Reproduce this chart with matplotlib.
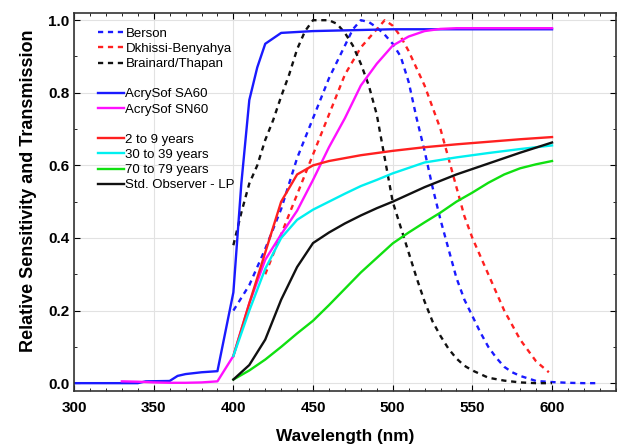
import matplotlib
matplotlib.use("Agg")
import matplotlib.pyplot as plt
from matplotlib.lines import Line2D
from matplotlib.ticker import MultipleLocator

plt.rcParams['font.family'] = ['Liberation Sans', 'DejaVu Sans']

# ---- data ----
berson_x = [400, 410, 420, 430, 440, 450, 460, 470, 475, 480, 485, 490, 495, 500, 505, 510, 515, 520,
            525, 530, 535, 540, 545, 550, 555, 560, 565, 570, 575, 580, 590, 600, 610, 620, 630]
berson_y = [0.20, 0.27, 0.37, 0.48, 0.62, 0.73, 0.84, 0.93, 0.975, 1.00, 0.995, 0.98, 0.96, 0.935, 0.90,
            0.83, 0.73, 0.64, 0.54, 0.45, 0.37, 0.29, 0.23, 0.185, 0.14, 0.10, 0.07, 0.045, 0.03, 0.02,
            0.006, 0.003, 0.001, 0.0, 0.0]

dkhissi_x = [420, 430, 440, 450, 460, 470, 480, 490, 495, 500, 505, 510, 520, 530, 540, 545, 550, 560,
             570, 580, 590, 598]
dkhissi_y = [0.30, 0.41, 0.52, 0.63, 0.74, 0.85, 0.925, 0.975, 1.00, 0.985, 0.955, 0.915, 0.82, 0.70,
             0.54, 0.46, 0.40, 0.30, 0.20, 0.12, 0.06, 0.03]

brainard_x = [400, 405, 410, 415, 420, 425, 430, 435, 440, 445, 450, 455, 460, 465, 470, 475, 480, 485,
              490, 495, 500, 505, 510, 515, 520, 525, 530, 535, 540, 545, 550, 555, 560, 570, 580, 590, 600]
brainard_y = [0.38, 0.47, 0.55, 0.60, 0.67, 0.725, 0.79, 0.85, 0.92, 0.97, 1.00, 1.00, 1.00, 0.99,
              0.965, 0.93, 0.88, 0.82, 0.74, 0.62, 0.50, 0.43, 0.36, 0.29, 0.225, 0.17, 0.13, 0.095,
              0.068, 0.048, 0.035, 0.025, 0.015, 0.007, 0.002, 0.0, 0.0]

sa60_x = [300, 340, 345, 360, 365, 370, 380, 390, 400, 405, 410, 415, 420, 430, 450, 500, 600]
sa60_y = [0.0, 0.0, 0.005, 0.006, 0.02, 0.025, 0.03, 0.033, 0.25, 0.55, 0.78, 0.87, 0.935, 0.965,
          0.97, 0.975, 0.975]

sn60_x = [330, 340, 350, 360, 370, 380, 390, 400, 410, 420, 430, 440, 450, 460, 470, 480, 490, 500,
          510, 520, 530, 540, 600]
sn60_y = [0.005, 0.004, 0.002, 0.001, 0.001, 0.002, 0.005, 0.075, 0.22, 0.34, 0.41, 0.475, 0.56,
          0.65, 0.73, 0.82, 0.88, 0.93, 0.955, 0.97, 0.976, 0.978, 0.978]

age2_x = [400, 410, 420, 430, 440, 450, 460, 480, 500, 520, 540, 560, 580, 600]
age2_y = [0.075, 0.22, 0.36, 0.50, 0.575, 0.60, 0.612, 0.628, 0.64, 0.65, 0.658, 0.665, 0.672, 0.678]

age30_x = [400, 410, 420, 430, 440, 450, 460, 470, 480, 490, 500, 520, 540, 560, 580, 600]
age30_y = [0.075, 0.20, 0.315, 0.40, 0.45, 0.478, 0.50, 0.522, 0.543, 0.56, 0.578, 0.608, 0.622,
           0.634, 0.645, 0.655]

age70_x = [400, 410, 420, 430, 440, 450, 460, 470, 480, 490, 500, 510, 520, 530, 540, 550, 560, 570,
           580, 590, 600]
age70_y = [0.01, 0.035, 0.065, 0.10, 0.137, 0.172, 0.215, 0.26, 0.305, 0.345, 0.385, 0.415, 0.443,
           0.47, 0.50, 0.525, 0.552, 0.575, 0.592, 0.603, 0.612]

std_x = [400, 410, 420, 430, 440, 450, 460, 470, 480, 490, 500, 520, 540, 560, 580, 600]
std_y = [0.01, 0.05, 0.12, 0.23, 0.32, 0.386, 0.415, 0.44, 0.462, 0.482, 0.50, 0.54, 0.575, 0.605,
         0.635, 0.663]

x_ticks = [300, 350, 400, 450, 500, 550, 600]
y_ticks = [0.0, 0.2, 0.4, 0.6, 0.8, 1.0]

# ---- figure ----
fig = plt.figure(figsize=(6.17, 4.46), dpi=100)
ax = fig.add_axes([0.120, 0.123, 0.878, 0.848])

dash = (0, (2.2, 2.0))
lw = 1.7
h_b, = ax.plot(berson_x, berson_y, color='#1a1aff', lw=lw, linestyle=dash, label='Berson')
h_d, = ax.plot(dkhissi_x, dkhissi_y, color='#ff2020', lw=lw, linestyle=dash, label='Dkhissi-Benyahya')
h_t, = ax.plot(brainard_x, brainard_y, color='#111111', lw=lw, linestyle=dash, label='Brainard/Thapan')
h_sa, = ax.plot(sa60_x, sa60_y, color='#1a1aff', lw=lw, label='AcrySof SA60')
h_sn, = ax.plot(sn60_x, sn60_y, color='#ff10ff', lw=lw, label='AcrySof SN60')
h_2, = ax.plot(age2_x, age2_y, color='#ff2020', lw=lw, label='2 to 9 years')
h_30, = ax.plot(age30_x, age30_y, color='#00f0f0', lw=lw, label='30 to 39 years')
h_70, = ax.plot(age70_x, age70_y, color='#10e010', lw=lw, label='70 to 79 years')
h_s, = ax.plot(std_x, std_y, color='#111111', lw=lw, label='Std. Observer - LP')

ax.set_xlim(300, 640)
ax.set_ylim(-0.022, 1.02)
ax.set_xticks(x_ticks)
ax.set_yticks(y_ticks)
ax.set_yticklabels([f"{v:.1f}" for v in y_ticks])
ax.xaxis.set_minor_locator(MultipleLocator(10))
ax.yaxis.set_minor_locator(MultipleLocator(0.1))
ax.tick_params(which='both', direction='in', top=True, right=True, labelsize=11)
ax.tick_params(which='major', length=4, width=0.8)
ax.tick_params(which='minor', length=2, width=0.6)
for lab in ax.get_xticklabels() + ax.get_yticklabels():
    lab.set_fontweight('bold')
ax.tick_params(axis='x', pad=7)
ax.grid(True, which='major', color='#e2e2e2', lw=0.8)
ax.set_axisbelow(True)
for sp in ax.spines.values():
    sp.set_linewidth(1.2)
    sp.set_color('#333333')

ax.set_xlabel('Wavelength (nm)', fontsize=12.4, fontweight='bold', labelpad=10)
ax.set_ylabel('Relative Sensitivity and Transmission', fontsize=13, fontweight='bold')
ax.yaxis.set_label_coords(-0.068, 0.53)

blank = Line2D([], [], color='none')
handles = [h_b, h_d, h_t, blank, h_sa, h_sn, blank, h_2, h_30, h_70, h_s]
labels = ['Berson', 'Dkhissi-Benyahya', 'Brainard/Thapan', '', 'AcrySof SA60', 'AcrySof SN60', '',
          '2 to 9 years', '30 to 39 years', '70 to 79 years', 'Std. Observer - LP']
ax.legend(handles, labels, loc='upper left', bbox_to_anchor=(0.034, 0.975), frameon=False,
          fontsize=9.5, handlelength=2.0, handletextpad=0.1, labelspacing=0.22, borderaxespad=0)

fig.savefig('out.png', dpi=100)
